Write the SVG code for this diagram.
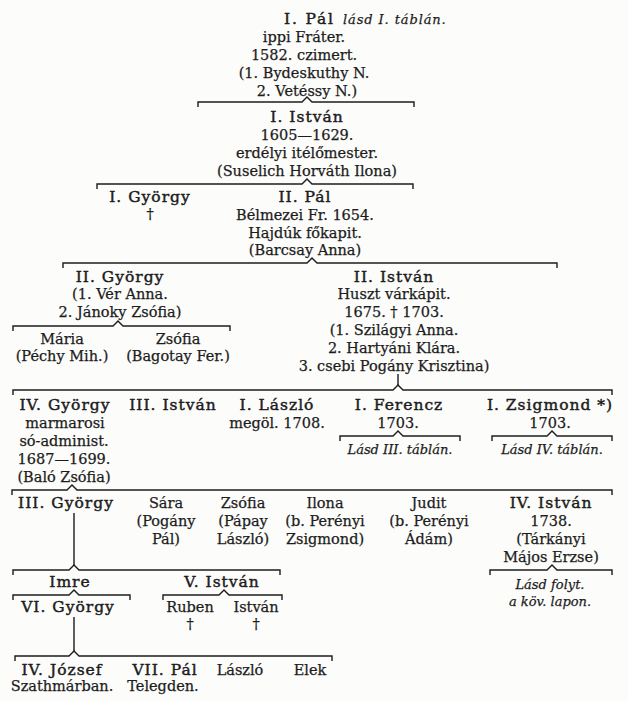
<svg xmlns="http://www.w3.org/2000/svg" width="628" height="702" viewBox="0 0 628 702">
<style>
text{font-family:"DejaVu Serif","Liberation Serif",serif;font-size:14.5px;fill:#1c1c1c;stroke:#1c1c1c;stroke-width:0.25;text-anchor:middle}
text.n{font-size:15.5px;letter-spacing:1px;stroke-width:0.45}
text.i{font-style:italic;font-size:13px}
text.s{text-anchor:start}
.br{fill:none;stroke:#1c1c1c;stroke-width:1.4}
</style>
<rect width="628" height="702" fill="#fcfcfb"/>
<g id="connectors" class="br">
<path d="M198,107V102H302L307,97L312,102H414V107"/>
<path d="M97,189V184H302L307,179L312,184H413V189"/>
<path d="M63,268V263H307L312,258L317,263H557V268"/>
<path d="M13,331V326H113L118,321L123,326H230V331"/>
<path d="M398,374V385"/>
<path d="M13,395V390H393L398,385L403,390H612V395"/>
<path d="M340,441V436H393L398,431L403,436H460V441"/>
<path d="M492,441V436H547L552,431L557,436H612V441"/>
<path d="M12,495V490H67L72,485L77,490H612V495"/>
<path d="M490,575V570H547L552,565L557,570H612V575"/>
<path d="M74,513V565"/>
<path d="M13,575V570H69L74,565L79,570H280V575"/>
<path d="M13,600V595H69L74,590L79,595H130V600"/>
<path d="M163,600V595H219L224,590L229,595H282V600"/>
<path d="M74,617V651"/>
<path d="M15,661V656H69L74,651L79,656H332V661"/>
</g>
<g id="pal1">
<text class="n s" x="284" y="24" style="letter-spacing:1.8px">I. Pál</text>
<text class="i s" x="343" y="24" style="letter-spacing:0.9px">lásd I. táblán.</text>
<text x="304" y="42">ippi Fráter.</text>
<text x="304" y="60">1582. czimert.</text>
<text x="304" y="78">(1. Bydeskuthy N.</text>
<text x="307" y="96">2. Vetéssy N.)</text>
</g>
<g id="istvan1">
<text class="n" x="307" y="122">I. István</text>
<text x="307" y="140">1605—1629.</text>
<text x="307" y="158">erdélyi itélőmester.</text>
<text x="307" y="176">(Suselich Horváth Ilona)</text>
</g>
<g id="gyorgy1">
<text class="n" x="150" y="202">I. György</text>
<text x="150" y="219">†</text>
</g>
<g id="pal2">
<text class="n" x="305" y="202">II. Pál</text>
<text x="305" y="220">Bélmezei Fr. 1654.</text>
<text x="305" y="238">Hajdúk főkapit.</text>
<text x="305" y="255">(Barcsay Anna)</text>
</g>
<g id="gyorgy2">
<text class="n" x="120" y="282">II. György</text>
<text x="120" y="299">(1. Vér Anna.</text>
<text x="120" y="317">2. Jánoky Zsófia)</text>
</g>
<g id="istvan2">
<text class="n" x="394" y="282">II. István</text>
<text x="394" y="299">Huszt várkápit.</text>
<text x="394" y="317">1675. † 1703.</text>
<text x="394" y="335">(1. Szilágyi Anna.</text>
<text x="394" y="353">2. Hartyáni Klára.</text>
<text x="394" y="371">3. csebi Pogány Krisztina)</text>
</g>
<g id="maria">
<text x="62" y="344">Mária</text>
<text x="62" y="361">(Péchy Mih.)</text>
</g>
<g id="zsofia1">
<text x="178" y="344">Zsófia</text>
<text x="178" y="361">(Bagotay Fer.)</text>
</g>
<g id="gyorgy4">
<text class="n" x="65" y="410">IV. György</text>
<text x="65" y="428">marmarosi</text>
<text x="64" y="446">só-administ.</text>
<text x="64" y="464">1687—1699.</text>
<text x="64" y="482">(Baló Zsófia)</text>
</g>
<g id="istvan3">
<text class="n" x="173" y="410">III. István</text>
</g>
<g id="laszlo1">
<text class="n" x="277" y="410">I. László</text>
<text x="277" y="428">megöl. 1708.</text>
</g>
<g id="ferencz1">
<text class="n" x="399" y="410">I. Ferencz</text>
<text x="398" y="428">1703.</text>
<text class="i" x="400" y="454">Lásd III. táblán.</text>
</g>
<g id="zsigmond1">
<text class="n" x="550" y="410">I. Zsigmond *)</text>
<text x="550" y="428">1703.</text>
<text class="i" x="552" y="454">Lásd IV. táblán.</text>
</g>
<g id="gyorgy3">
<text class="n" x="66" y="508">III. György</text>
</g>
<g id="sara">
<text x="166" y="508">Sára</text>
<text x="166" y="526">(Pogány</text>
<text x="166" y="544">Pál)</text>
</g>
<g id="zsofia2">
<text x="243" y="508">Zsófia</text>
<text x="243" y="526">(Pápay</text>
<text x="243" y="544">László)</text>
</g>
<g id="ilona">
<text x="325" y="508">Ilona</text>
<text x="325" y="526">(b. Perényi</text>
<text x="325" y="544">Zsigmond)</text>
</g>
<g id="judit">
<text x="429" y="508">Judit</text>
<text x="429" y="526">(b. Perényi</text>
<text x="429" y="544">Ádám)</text>
</g>
<g id="istvan4">
<text class="n" x="551" y="508">IV. István</text>
<text x="551" y="526">1738.</text>
<text x="551" y="544">(Tárkányi</text>
<text x="551" y="562">Májos Erzse)</text>
<text class="i" x="550" y="589">Lásd folyt.</text>
<text class="i" x="550" y="606">a köv. lapon.</text>
</g>
<g id="imre">
<text class="n" x="70" y="587">Imre</text>
</g>
<g id="istvan5">
<text class="n" x="222" y="587">V. István</text>
</g>
<g id="gyorgy6">
<text class="n" x="68" y="612">VI. György</text>
</g>
<g id="ruben">
<text x="190" y="612">Ruben</text>
<text x="190" y="629">†</text>
</g>
<g id="istvan6">
<text x="256" y="612">István</text>
<text x="256" y="629">†</text>
</g>
<g id="jozsef4">
<text class="n" x="62" y="675">IV. József</text>
<text x="62" y="691">Szathmárban.</text>
</g>
<g id="pal7">
<text class="n" x="165" y="675">VII. Pál</text>
<text x="163" y="691">Telegden.</text>
</g>
<g id="laszlo2">
<text x="240" y="675">László</text>
</g>
<g id="elek">
<text x="310" y="675">Elek</text>
</g>
</svg>
